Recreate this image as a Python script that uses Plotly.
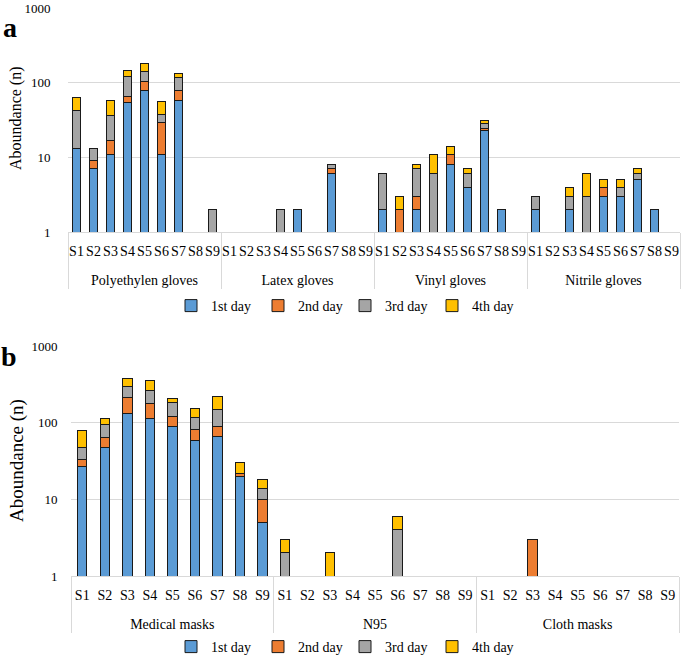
import plotly.graph_objects as go

# ---------------- data ----------------
sites = ["S1", "S2", "S3", "S4", "S5", "S6", "S7", "S8", "S9"]
glove_groups = ["Polyethylen gloves", "Latex gloves", "Vinyl gloves", "Nitrile gloves"]
mask_groups = ["Medical masks", "N95", "Cloth masks"]
day_names = ["1st day", "2nd day", "3rd day", "4th day"]

gloves_day1 = [13, 7, 11, 55, 78, 11, 58, 0, 0,
               0, 0, 0, 0, 2, 0, 6, 0, 0,
               2, 0, 2, 0, 8, 4, 23, 2, 0,
               2, 0, 2, 0, 3, 3, 5, 2, 0]
gloves_day2 = [0, 2, 6, 10, 25, 18, 20, 0, 0,
               0, 0, 0, 0, 0, 0, 1, 0, 0,
               0, 2, 1, 0, 3, 0, 1, 0, 0,
               0, 0, 0, 0, 1, 0, 0, 0, 0]
gloves_day3 = [30, 4, 19, 56, 40, 9, 41, 0, 2,
               0, 0, 0, 2, 0, 0, 1, 0, 0,
               4, 0, 4, 6, 0, 2, 4, 0, 0,
               1, 0, 1, 3, 0, 1, 1, 0, 0]
gloves_day4 = [21, 0, 22, 23, 39, 18, 12, 0, 0,
               0, 0, 0, 0, 0, 0, 0, 0, 0,
               0, 1, 1, 5, 3, 1, 3, 0, 0,
               0, 0, 1, 3, 1, 1, 1, 0, 0]

masks_day1 = [27, 47, 133, 115, 89, 58, 67, 20, 5,
              0, 0, 0, 0, 0, 0, 0, 0, 0,
              0, 0, 0, 0, 0, 0, 0, 0, 0]
masks_day2 = [6, 17, 77, 61, 31, 24, 21, 2, 5,
              0, 0, 0, 0, 0, 0, 0, 0, 0,
              0, 0, 3, 0, 0, 0, 0, 0, 0]
masks_day3 = [15, 31, 82, 84, 63, 35, 60, 0, 4,
              2, 0, 0, 0, 0, 4, 0, 0, 0,
              0, 0, 0, 0, 0, 0, 0, 0, 0]
masks_day4 = [31, 19, 80, 90, 25, 38, 73, 8, 4,
              1, 0, 2, 0, 0, 2, 0, 0, 0,
              0, 0, 0, 0, 0, 0, 0, 0, 0]

ytick_vals = [1, 10, 100, 1000]
ytick_text = ["1", "10", "100", "1000"]

# ---------------- style ----------------
colors = ["#5B9BD5", "#ED7D31", "#A5A5A5", "#FFC000"]
FONT = "Liberation Serif, Times New Roman, serif"
W, H = 681, 658
grid = "#D9D9D9"


def px(x):
    return x / W


def py(y):
    return 1 - y / H


def nz(vals):
    return [v if v else None for v in vals]


fig = go.Figure()

# outer (group) labels get an empty first line so they sit lower, like the reference
g_outer = ["<br>" + g for g in glove_groups for _ in sites]
g_inner = [s for _ in glove_groups for s in sites]
m_outer = ["<br>" + g for g in mask_groups for _ in sites]
m_inner = [s for _ in mask_groups for s in sites]

for name, vals, col in zip(day_names, [gloves_day1, gloves_day2, gloves_day3, gloves_day4], colors):
    fig.add_trace(go.Bar(x=[g_outer, g_inner], y=nz(vals), name=name,
                         marker=dict(color=col, line=dict(color="#1a1a1a", width=1)),
                         xaxis="x", yaxis="y", legend="legend"))

for name, vals, col in zip(day_names, [masks_day1, masks_day2, masks_day3, masks_day4], colors):
    fig.add_trace(go.Bar(x=[m_outer, m_inner], y=nz(vals), name=name,
                         marker=dict(color=col, line=dict(color="#1a1a1a", width=1)),
                         xaxis="x2", yaxis="y2", legend="legend2"))

xcommon = dict(type="multicategory", showline=True, linecolor=grid, linewidth=1,
               showdividers=True, dividercolor=grid, dividerwidth=1, automargin=False,
               ticklabelstandoff=6,
               tickangle=0, tickfont=dict(family=FONT, size=14, color="black"),
               showgrid=False, zeroline=False)
ycommon = dict(type="log", range=[0, 3], tickvals=ytick_vals, ticktext=ytick_text,
               showgrid=True, gridcolor=grid, gridwidth=1, zeroline=False, showline=False,
               ticks="outside", tickcolor="rgba(0,0,0,0)", automargin=False,
               ticklabeloverflow="allow",
               tickfont=dict(family=FONT, size=13, color="black"))

legcommon = dict(orientation="h", xanchor="center", font=dict(family=FONT, size=14),
                 itemwidth=30, entrywidth=42, traceorder="normal",
                 bgcolor="rgba(0,0,0,0)")

fig.update_layout(
    width=W, height=H, margin=dict(l=0, r=0, t=0, b=0, autoexpand=False),
    paper_bgcolor="white", plot_bgcolor="white",
    barmode="stack", bargap=0.58,
    font=dict(family=FONT, color="black"),
    xaxis=dict(domain=[px(68), px(680)], anchor="y", **xcommon),
    yaxis=dict(domain=[py(232), py(8)], anchor="x", ticklen=14, **ycommon),
    xaxis2=dict(domain=[px(71), px(679)], anchor="y2", **xcommon),
    yaxis2=dict(domain=[py(576), py(346)], anchor="x2", ticklen=10, **ycommon),
    legend=dict(x=px(345), y=py(306), yanchor="middle", **legcommon),
    legend2=dict(x=px(345), y=py(647), yanchor="middle", **legcommon),
    showlegend=True,
    annotations=[
        dict(text="<b>a</b>", x=px(10), y=py(28), xref="paper", yref="paper", showarrow=False,
             font=dict(family=FONT, size=28), xanchor="center", yanchor="middle"),
        dict(text="<b>b</b>", x=px(9), y=py(357), xref="paper", yref="paper", showarrow=False,
             font=dict(family=FONT, size=28), xanchor="center", yanchor="middle"),
        dict(text="Aboundance (n)", x=px(16), y=py(118), xref="paper", yref="paper", showarrow=False,
             textangle=-90, font=dict(family=FONT, size=16), xanchor="center", yanchor="middle"),
        dict(text="Aboundance (n)", x=px(17), y=py(461), xref="paper", yref="paper", showarrow=False,
             textangle=-90, font=dict(family=FONT, size=19), xanchor="center", yanchor="middle"),
    ],
)

fig.write_html("out.html", config={"displayModeBar": False},
               post_script="document.body.style.margin='0';document.body.style.padding='0';")
